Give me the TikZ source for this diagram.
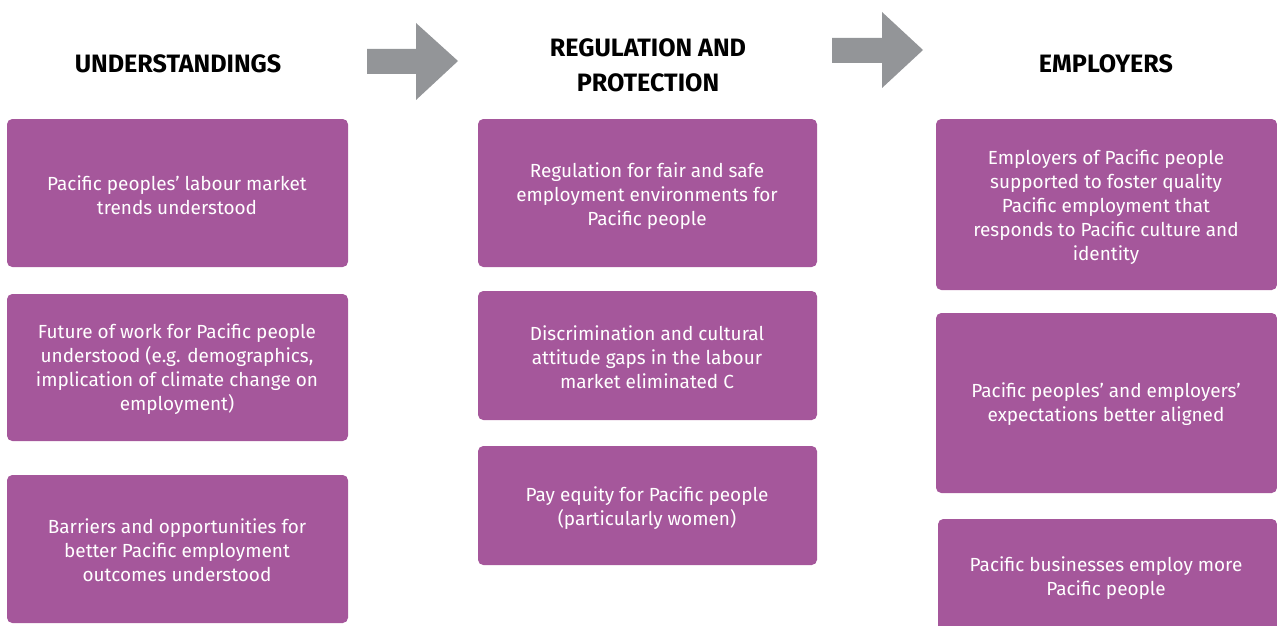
\documentclass[tikz,border=0pt]{standalone}
\usepackage{fontspec}
\setmainfont{Fira Sans}
\usepackage{tikz}
\definecolor{pp}{HTML}{A5579B}
\definecolor{ag}{HTML}{939598}

\begin{document}
\begin{tikzpicture}[x=0.02cm,y=-0.02cm]
\tikzset{txt/.style={text=white,align=center,font=\fontsize{10.8}{13.6}\selectfont},
         head/.style={text=black,align=center,font=\fontsize{14.3}{19.8}\selectfont\bfseries}}

\useasboundingbox (0,0) rectangle (1277,625);
\clip (0,0) rectangle (1277,625);

%headers
\node[head] (h1) at (178,64) {UNDERSTANDINGS};
\node[head] (h2) at (648,65) {REGULATION AND\\PROTECTION};
\node[head] (h3) at (1106,64) {EMPLOYERS};

%arrows
\fill[ag] (367,49) -- (416,49) -- (416,23) -- (458,61) -- (416,100) -- (416,74) -- (367,74) -- cycle;
\fill[ag] (832,38) -- (882,38) -- (882,12) -- (923,50) -- (882,88) -- (882,63) -- (832,63) -- cycle;

%column 1
\fill[pp,rounded corners=3pt] (7,119) rectangle (348,267);
\fill[pp,rounded corners=3pt] (7,294) rectangle (348,441);
\fill[pp,rounded corners=3pt] (7,475) rectangle (348,623);
\node[txt] (u1) at (177,195) {Pacific peoples’ labour market\\trends understood};
\node[txt] (u2) at (177,369) {Future of work for Pacific people\\understood (e.g. demographics,\\implication of climate change on\\employment)};
\node[txt] (u3) at (177,550) {Barriers and opportunities for\\better Pacific employment\\outcomes understood};

%column 2
\fill[pp,rounded corners=3pt] (478,119) rectangle (817,267);
\fill[pp,rounded corners=3pt] (478,291) rectangle (817,420);
\fill[pp,rounded corners=3pt] (478,446) rectangle (817,565);
\node[txt] (r1) at (647,196) {Regulation for fair and safe\\employment environments for\\Pacific people};
\node[txt] (r2) at (647,357) {Discrimination and cultural\\attitude gaps in the labour\\market eliminated C};
\node[txt] (r3) at (647,508) {Pay equity for Pacific people\\(particularly women)};

%column 3
\fill[pp,rounded corners=3pt] (936,119) rectangle (1277,290);
\fill[pp,rounded corners=3pt] (936,313) rectangle (1277,493);
\fill[pp,rounded corners=3pt] (938,519) rectangle (1277,650);
\node[txt] (e1) at (1106,207) {Employers of Pacific people\\supported to foster quality\\Pacific employment that\\responds to Pacific culture and\\identity};
\node[txt] (e2) at (1106,404) {Pacific peoples’ and employers’\\expectations better aligned};
\node[txt] (e3) at (1106,578) {Pacific businesses employ more\\Pacific people};

\end{tikzpicture}
\end{document}
